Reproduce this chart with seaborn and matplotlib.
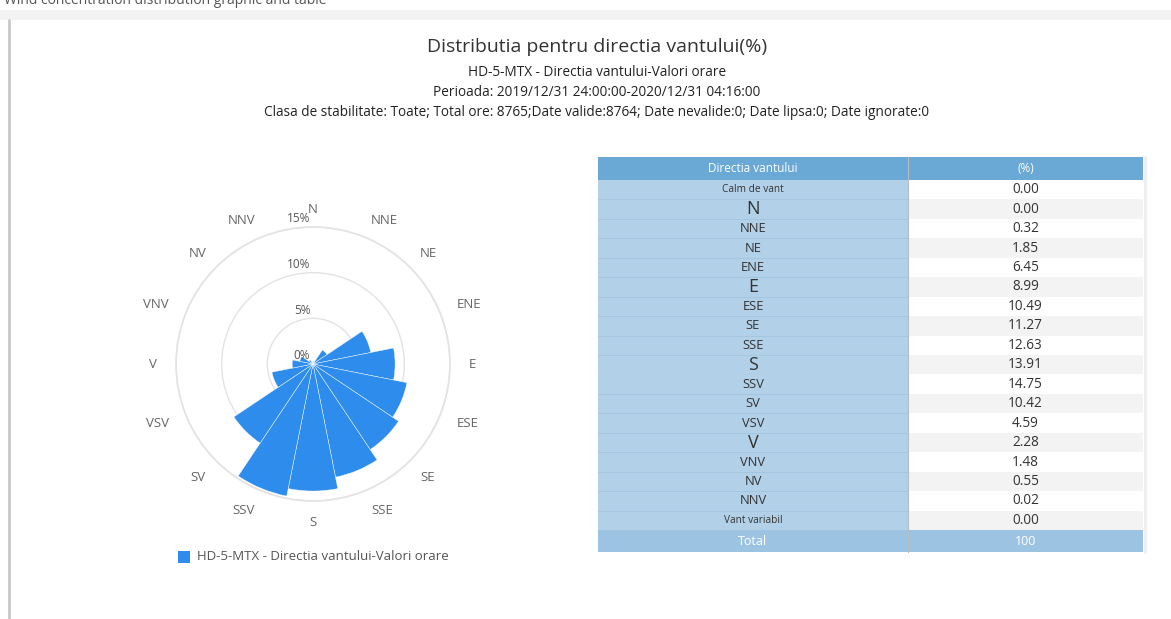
import numpy as np
import seaborn as sns
import matplotlib.pyplot as plt
from matplotlib.patches import Rectangle

# data
directions = ["N", "NNE", "NE", "ENE", "E", "ESE", "SE", "SSE",
              "S", "SSV", "SV", "VSV", "V", "VNV", "NV", "NNV"]
freq = [0.00, 0.32, 1.85, 6.45, 8.99, 10.49, 11.27, 12.63,
        13.91, 14.75, 10.42, 4.59, 2.28, 1.48, 0.55, 0.02]
calm = 0.00
variabil = 0.00
total = 100
rings = [0, 5, 10, 15]

series_name = "HD-5-MTX - Directia vantului-Valori orare"
title = "Distributia pentru directia vantului(%)"
subtitles = [
    "HD-5-MTX - Directia vantului-Valori orare",
    "Perioada: 2019/12/31 24:00:00-2020/12/31 04:16:00",
    "Clasa de stabilitate: Toate; Total ore: 8765;Date valide:8764; Date nevalide:0; Date lipsa:0; Date ignorate:0",
]

sns.set_theme(style="white")
plt.rcParams['font.family'] = ['Open Sans', 'DejaVu Sans']

W, H = 1171, 619
fig = plt.figure(figsize=(W / 100, H / 100), dpi=100)
bar_color = "#2E8DEC"

# overlay axes in pixel coords for frame, titles and table
ov = fig.add_axes([0, 0, 1, 1])
ov.set_xlim(0, W)
ov.set_ylim(H, 0)
ov.axis("off")

# page chrome (heading of the page is cut off at the top, as in the screenshot)
ov.add_patch(Rectangle((0, 10), W, 10, color="#f3f3f3", lw=0))
ov.text(4, 1, "Wind concentration distribution graphic and table", fontsize=10,
        color="#555555", va="center", ha="left", clip_on=True)
ov.plot([8.5, 8.5], [20, H], color="#c8c8c8", lw=2)

ov.text(597, 47, title, fontsize=14, color="#333333", ha="center", va="center")
for i, s in enumerate(subtitles):
    ov.text(597, 72 + i * 20, s, fontsize=9.8, color="#222222", ha="center", va="center")

# table
tx0, tx1, tx2 = 598, 908, 1143
hdr_top, hdr_bot = 157, 180
row_h = 19.45
labels = ["Calm de vant"] + directions + ["Vant variabil"]
values = [calm] + freq + [variabil]

ov.add_patch(Rectangle((tx0, hdr_top), tx2 - tx0, hdr_bot - hdr_top, color="#6AA8D5", lw=0))
ov.text((tx0 + tx1) / 2, (hdr_top + hdr_bot) / 2, "Directia vantului", fontsize=8.5,
        color="white", ha="center", va="center")
ov.text((tx1 + tx2) / 2, (hdr_top + hdr_bot) / 2, "(%)", fontsize=8.5,
        color="white", ha="center", va="center")

for i, (lab, val) in enumerate(zip(labels, values)):
    y0 = hdr_bot + i * row_h
    ov.add_patch(Rectangle((tx0, y0), tx1 - tx0, row_h, color="#B2D1E8", lw=0))
    ov.add_patch(Rectangle((tx1, y0), tx2 - tx1, row_h,
                           color="white" if i % 2 == 0 else "#F3F3F3", lw=0))
    ov.plot([tx0, tx1], [y0 + row_h, y0 + row_h], color="#A3C5DE", lw=0.6)
    if len(lab) == 1:
        fs = 13
    elif len(lab) <= 3:
        fs = 9.3
    else:
        fs = 7.3
    ov.text((tx0 + tx1) / 2, y0 + row_h / 2, lab, fontsize=fs, color="#333333",
            ha="center", va="center")
    ov.text((tx1 + tx2) / 2, y0 + row_h / 2, f"{val:.2f}", fontsize=9.8, color="#333333",
            ha="center", va="center")

ty = hdr_bot + len(labels) * row_h
ov.add_patch(Rectangle((tx0, ty), tx2 - tx0, 22, color="#9CC4E2", lw=0))
ov.text((tx0 + tx1) / 2, ty + 11, "Total", fontsize=9, color="white", ha="center", va="center")
ov.text((tx1 + tx2) / 2, ty + 11, str(total), fontsize=9, color="white", ha="center", va="center")
ov.plot([tx1, tx1], [hdr_top, ty + 22], color="#b5bcc2", lw=0.8)
ov.plot([tx2 + 1.5, tx2 + 1.5], [hdr_top, ty + 22], color="#eeeeee", lw=2)

# legend
ov.add_patch(Rectangle((178, 551), 12, 12, color=bar_color, lw=0))
ov.text(197, 557, series_name, fontsize=9.5, color="#555555", ha="left", va="center")

# wind rose
cx, cy, rad = 313, 364, 137
ax = fig.add_axes([(cx - rad) / W, (H - cy - rad) / H, 2 * rad / W, 2 * rad / H],
                  projection="polar")
ax.set_theta_zero_location("N")
ax.set_theta_direction(-1)
theta = np.deg2rad(np.arange(len(directions)) * 22.5)
ax.bar(theta, freq, width=np.deg2rad(22.5), color=bar_color, edgecolor="white",
       linewidth=0.3, zorder=3)
ax.set_ylim(0, 15)
ax.set_yticks(rings[1:])
ax.set_yticklabels([])
ax.yaxis.grid(True, color="#e3e3e3", lw=1)
ax.xaxis.grid(False)
ax.spines["polar"].set_color("#e3e3e3")
ax.set_xticks(theta)
ax.set_xticklabels([])
ax.set_facecolor("none")

# direction labels anchored by their near edge, just outside the outer ring
for t, d in zip(theta, directions):
    s, c = np.sin(t), np.cos(t)
    ha = "left" if s > 0.1 else ("right" if s < -0.1 else "center")
    if c > 0.5:
        va, rp = "baseline", 151
    elif c < -0.5:
        va, rp = "top", 152
    else:
        va, rp = "center", 156
    ax.text(t, 15 * rp / rad, d, ha=ha, va=va, fontsize=9.5, color="#666666", clip_on=False)

for r in rings:
    ax.annotate(f"{r}%", xy=(0, r), xytext=(-2, 6), textcoords="offset points",
                ha="right", va="center", fontsize=8.5, color="#555555", zorder=4)

fig.savefig("out.png", dpi=100)
